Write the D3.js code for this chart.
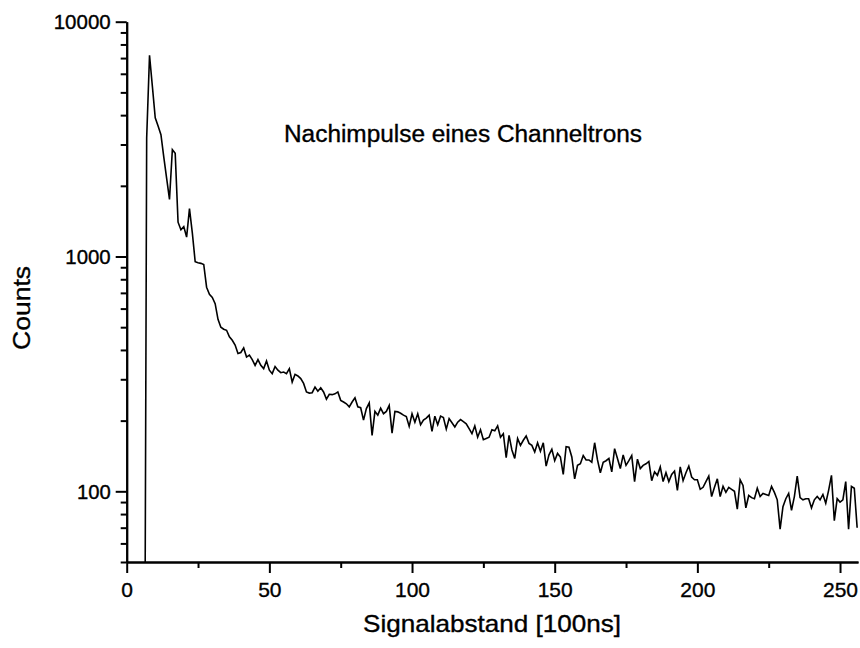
<!DOCTYPE html>
<html><head><meta charset="utf-8">
<script src="https://cdn.jsdelivr.net/npm/d3@7"></script>
<style>
body{margin:0;background:#fff}
text{font-family:"Liberation Sans",Arial,Helvetica,sans-serif;fill:#000;stroke:#000;stroke-width:0.35px}
</style>
</head><body>
<svg id="chart" width="860" height="648"></svg>
<script>
// ---- data ----
const firstChannel = 6;
const counts = [
  1, 3200, 7200, 5300, 3900, 3600, 3300, 2650, 2150, 1750,   // 6-15
  2850, 2750, 1400, 1300, 1340, 1210, 1600, 1260, 950, 940,   // 16-25
  935, 925, 740, 690, 670, 630, 540, 500, 490, 485,           // 26-35
  455, 440, 420, 386, 390, 408, 373, 380, 364, 344,           // 36-45
  364, 344, 333, 359, 328, 317, 340, 328, 320, 322,           // 46-55
  317, 333, 292, 315, 310, 302, 288, 265, 262, 263,           // 56-65
  278, 267, 276, 265, 247, 259, 258, 260, 265, 244,           // 66-75
  240, 236, 229, 240, 250, 229, 227, 201, 225, 238,           // 76-85
  173, 219, 211, 226, 214, 219, 232, 177, 219, 218,           // 86-95
  215, 211, 208, 189, 214, 197, 214, 192, 201, 205,           // 96-105
  211, 180, 209, 192, 209, 206, 184, 204, 196, 188,           // 106-115
  197, 202, 198, 194, 185, 176, 190, 170, 183, 166,           // 116-125
  168, 170, 183, 181, 190, 170, 176, 139, 173, 150,           // 126-135
  138, 168, 157, 165, 172, 160, 157, 147, 161, 148,           // 136-145
  161, 128, 143, 151, 135, 145, 140, 118, 155, 154,           // 146-155
  140, 113, 129, 131, 142, 136, 136, 133, 161, 136,           // 156-165
  120, 133, 135, 138, 121, 152, 138, 125, 143, 129,           // 166-175
  135, 142, 110, 137, 125, 129, 131, 134, 111, 121,           // 176-185
  117, 127, 110, 120, 110, 118, 122, 101, 127, 111,           // 186-195
  120, 128, 115, 112, 112, 102, 104, 110, 116, 95,            // 196-205
  104, 113, 95, 105, 99, 104, 102, 100, 84, 112,              // 206-215
  106, 85, 96, 94, 93, 103, 95, 98, 97, 96,                   // 216-225
  105, 99, 92, 69, 86, 93, 98, 83, 95, 116,                   // 226-235
  94, 92, 93, 93, 85, 92, 95, 92, 97, 89,                     // 236-245
  101, 117, 75, 93, 90, 92, 110, 69, 105, 103, 70             // 246-256
];
const xTicks = [0, 50, 100, 150, 200, 250];
const xMinorTicks = [25, 75, 125, 175, 225];
const yTicks = [100, 1000, 10000];
const yTickLabels = ["100", "1000", "10000"];
const yMinorTicks = [50, 60, 70, 80, 90, 200, 300, 400, 500, 600, 700, 800, 900,
                     2000, 3000, 4000, 5000, 6000, 7000, 8000, 9000];
const titleText = "Nachimpulse eines Channeltrons";
const xLabelText = "Signalabstand [100ns]";
const yLabelText = "Counts";

// ---- layout ----
const svg = d3.select("#chart");
const L = 126.7, R = 858, T = 21.7, B = 562;
const x = d3.scaleLinear().domain([0, 256.3]).range([L, R]);
const y = d3.scaleLog().domain([50, 10000]).range([B, T]);

svg.append("defs").append("clipPath").attr("id", "clip")
  .append("rect").attr("x", L).attr("y", T - 5).attr("width", R - L).attr("height", B - T + 5);

const pts = counts.map((c, i) => [firstChannel + i, c]);
svg.append("path")
  .datum(pts)
  .attr("clip-path", "url(#clip)")
  .attr("fill", "none")
  .attr("stroke", "#000")
  .attr("stroke-width", 1.6)
  .attr("stroke-linejoin", "miter")
  .attr("d", d3.line().x(d => x(d[0])).y(d => y(d[1])));

const yLabelOf = d => yTickLabels[yTicks.indexOf(d)];

// x axis
const gx = svg.append("g").attr("transform", `translate(0,${B})`);
gx.call(d3.axisBottom(x).tickValues(xTicks).tickSize(11).tickSizeOuter(0).tickFormat(d3.format("d")));
gx.append("g").call(d3.axisBottom(x).tickValues(xMinorTicks).tickSize(6).tickSizeOuter(0).tickFormat(""));
gx.selectAll("path.domain").attr("stroke-width", 2).attr("stroke", "#000");
gx.selectAll("line").attr("stroke-width", 2).attr("stroke", "#000");
gx.selectAll(".tick text").attr("font-size", 21).attr("dy", null).attr("y", 35)
  .attr("font-family", '"Liberation Sans",Arial,sans-serif').attr("fill", "#000");

// y axis
const gy = svg.append("g").attr("transform", `translate(${L},0)`);
gy.call(d3.axisLeft(y).tickValues(yTicks).tickSize(11).tickSizeOuter(0).tickFormat(yLabelOf));
gy.append("g").call(d3.axisLeft(y).tickValues(yMinorTicks).tickSize(6).tickSizeOuter(0).tickFormat(""));
gy.selectAll("path.domain").attr("stroke-width", 2).attr("stroke", "#000");
gy.selectAll("line").attr("stroke-width", 2).attr("stroke", "#000");
gy.selectAll(".tick text").filter(d => yTicks.includes(d))
  .attr("font-size", 20).attr("x", -16).attr("dy", "0.35em")
  .attr("font-family", '"Liberation Sans",Arial,sans-serif').attr("fill", "#000")
  .attr("textLength", d => yLabelOf(d).length * 11.6 - 1)
  .attr("lengthAdjust", "spacingAndGlyphs");

// texts
svg.append("text").attr("x", 284).attr("y", 142).attr("font-size", 23.5)
  .attr("textLength", 358).attr("lengthAdjust", "spacingAndGlyphs").text(titleText);
svg.append("text").attr("x", 492).attr("y", 632).attr("text-anchor", "middle")
  .attr("font-size", 24).attr("textLength", 258).attr("lengthAdjust", "spacingAndGlyphs")
  .text(xLabelText);
svg.append("text").attr("transform", "translate(30,308) rotate(-90)")
  .attr("text-anchor", "middle").attr("font-size", 24)
  .attr("textLength", 84).attr("lengthAdjust", "spacingAndGlyphs").text(yLabelText);
</script>
</body></html>
